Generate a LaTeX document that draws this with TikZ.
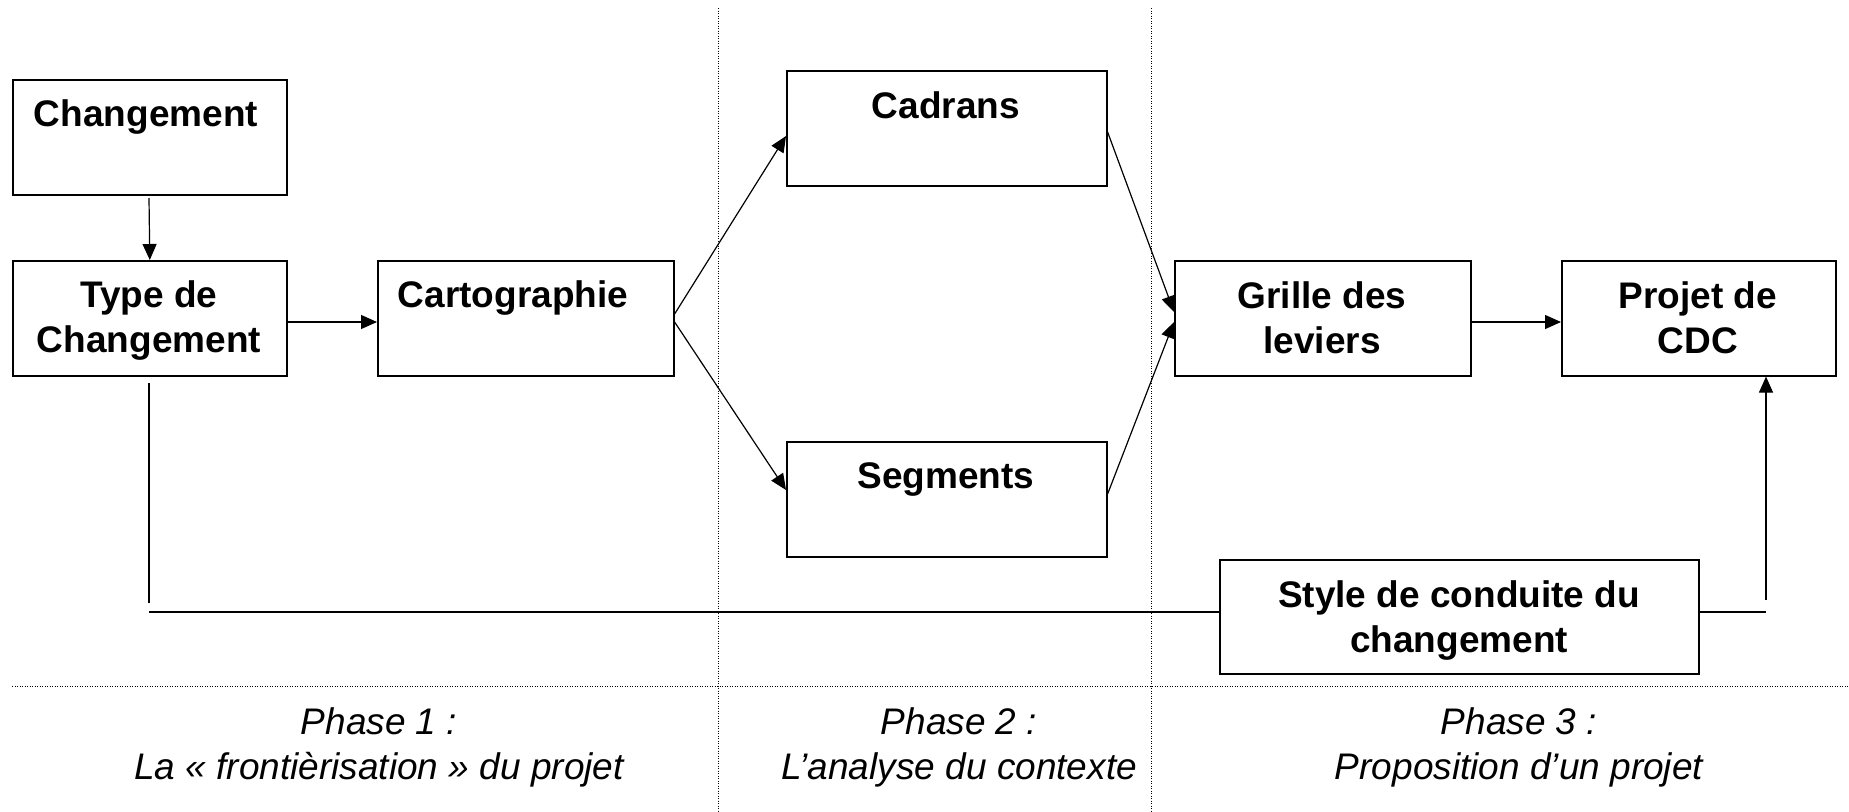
\documentclass[tikz,border=0pt]{standalone}
\usepackage{fontspec}
\setmainfont{Liberation Sans}
\usetikzlibrary{arrows.meta}
\begin{document}
\begin{tikzpicture}[x=1pt,y=-1pt,
 box/.style={draw,line width=1.6pt,inner sep=0pt,anchor=north west},
 lbl/.style={inner sep=0pt,anchor=north,align=center,font=\bfseries\fontsize{37}{45}\selectfont},
 phase/.style={inner sep=0pt,anchor=north,align=center,font=\itshape\fontsize{37}{45}\selectfont},
 conn/.style={line width=1.2pt},
 arr/.style={conn,-{Triangle[length=16pt,width=14pt]}},
 sepline/.style={line width=1pt,dash pattern=on 1pt off 1.5pt}]
\useasboundingbox (0,0) rectangle (1849,811);
% separators
\draw[sepline] (718,8) -- (718,811);
\draw[sepline] (1151,8) -- (1151,811);
\draw[sepline] (12,686.5) -- (1849,686.5);
% boxes
\node[box,minimum width=274pt,minimum height=115pt] (chg) at (12,79) {};
\node[box,minimum width=274pt,minimum height=115pt] (typ) at (12,260) {};
\node[box,minimum width=296pt,minimum height=115pt] (car) at (377,260) {};
\node[box,minimum width=320pt,minimum height=115pt] (cad) at (786,70) {};
\node[box,minimum width=320pt,minimum height=115pt] (seg) at (786,441) {};
\node[box,minimum width=296pt,minimum height=115pt] (gri) at (1174,260) {};
\node[box,minimum width=274pt,minimum height=115pt] (prj) at (1561,260) {};
\node[box,minimum width=479pt,minimum height=114pt] (sty) at (1219,559) {};
% labels
\node[lbl] (chgT) at (146,99) {Changement};
\node[lbl] (typT) at (149,280) {Type de\\Changement};
\node[lbl] (carT) at (513,280) {Cartographie};
\node[lbl] (cadT) at (946,91) {Cadrans};
\node[lbl] (segT) at (946,462) {Segments};
\node[lbl] (griT) at (1322,281) {Grille des\\leviers};
\node[lbl] (prjT) at (1698,281) {Projet de\\CDC};
\node[lbl] (styT) at (1459,580) {Style de conduite du\\changement};
% phases
\node[phase] (ph1) at (379,707) {Phase 1 :\\La « frontièrisation » du projet};
\node[phase] (ph2) at (959,707) {Phase 2 :\\L’analyse du contexte};
\node[phase] (ph3) at (1519,707) {Phase 3 :\\Proposition d’un projet};
% connectors
\coordinate (a0) at (149,198);
\draw[arr] (a0) -- (typ.north);
\draw[arr] (typ.east |- 0,322) -- (car.west |- 0,322);
\draw[arr] (car.east |- 0,314) -- (cad.west |- 0,136);
\draw[arr] (car.east |- 0,322) -- (seg.west |- 0,490);
\draw[arr] (cad.east |- 0,132) -- (gri.west |- 0,312);
\draw[arr] (seg.east |- 0,494) -- (gri.west |- 0,322);
\draw[arr] (gri.east |- 0,322) -- (prj.west |- 0,322);
\coordinate (l0) at (149,383);
\coordinate (l1) at (149,603);
\coordinate (h0) at (149,611.5);
\coordinate (h1) at (1766,611.5);
\coordinate (r0) at (1766,600);
\draw[conn] (l0) -- (l1);
\draw[line width=2pt] (h0) -- (sty.west |- h0);
\draw[line width=2pt] (sty.east |- h1) -- (h1);
\draw[arr] (r0) -- (prj.south -| r0);
\end{tikzpicture}
\end{document}
